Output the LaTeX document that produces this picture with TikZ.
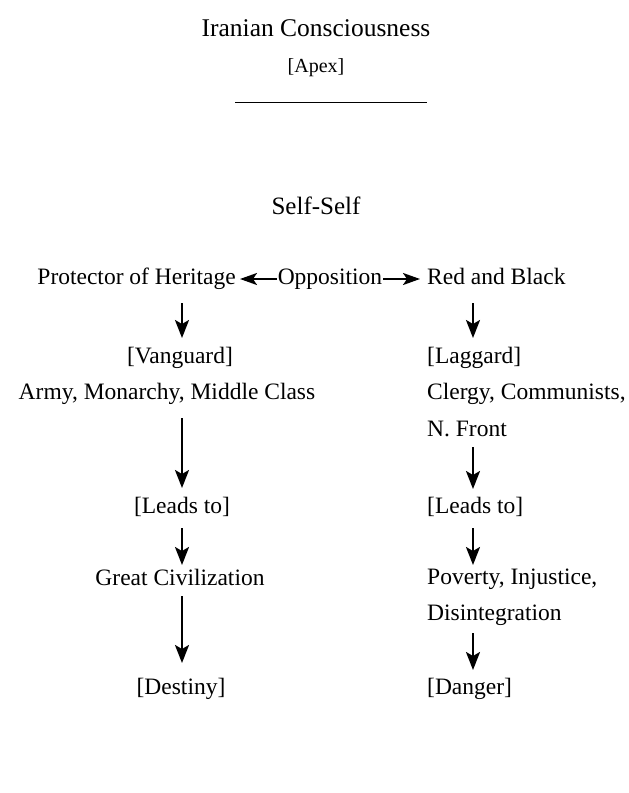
\documentclass[tikz,border=0pt]{standalone}
\usepackage{fontspec}
\setmainfont{Liberation Serif}
\usetikzlibrary{arrows.meta}
\begin{document}
\begin{tikzpicture}[x=1pt,y=-1pt,
  txt/.style={inner sep=0pt, font=\fontsize{23.5}{28}\selectfont},
  lcol/.style={txt, anchor=base},
  rcol/.style={txt, anchor=base west},
  arr/.style={line width=2.3pt, -{Stealth[length=18pt,width=14pt,inset=4pt]}},
  harr/.style={line width=2.1pt, -{Stealth[length=17pt,width=12pt,inset=4pt]}}]
\useasboundingbox (0,0) rectangle (629,793);
% header
\node[txt, anchor=base, font=\fontsize{25.5}{30}\selectfont] (title) at (316,36) {Iranian Consciousness};
\node[txt, anchor=base, font=\fontsize{20}{24}\selectfont] (apex) at (316,72) {[Apex]};
\coordinate (ruleL) at (235,102);
\coordinate (ruleR) at (427,102);
\draw[line width=0.9pt] (ruleL) -- (ruleR);
\node[txt, anchor=base, font=\fontsize{25}{30}\selectfont] (self) at (316,214) {Self-Self};
% top row
\node[txt, anchor=base east, inner xsep=4pt] (prot) at (240,284) {Protector of Heritage};
\node[txt, anchor=base, inner xsep=1pt] (opp) at (330,284) {Opposition};
\node[rcol] (red) at (427,284) {Red and Black};
\draw[harr] (opp.west |- 0,279) -- (prot.east |- 0,279);
\draw[harr] (opp.east |- 0,279) -- ([xshift=-7pt]red.west |- 0,279);
% left column
\node[lcol] (vang) at (180,363) {[Vanguard]};
\node[lcol] (army) at (167,399) {Army, Monarchy, Middle Class};
\node[lcol] (leadsL) at (182,513) {[Leads to]};
\node[lcol] (great) at (180,585) {Great Civilization};
\node[lcol] (dest) at (181,694) {[Destiny]};
% right column
\node[rcol] (lag) at (427,363) {[Laggard]};
\node[rcol] (clergy) at (427,399) {Clergy, Communists,};
\node[rcol] (front) at (427,436) {N. Front};
\node[rcol] (leadsR) at (427,513) {[Leads to]};
\node[rcol] (pov) at (427,584) {Poverty, Injustice,};
\node[rcol] (dis) at (427,620) {Disintegration};
\node[rcol] (dang) at (427,694) {[Danger]};
% arrow end points
\coordinate (l1s) at (182,303); \coordinate (l1e) at (182,338);
\coordinate (l2s) at (182,418); \coordinate (l2e) at (182,488);
\coordinate (l3s) at (182,528); \coordinate (l3e) at (182,565);
\coordinate (l4s) at (182,596); \coordinate (l4e) at (182,663);
\coordinate (r1s) at (473,303); \coordinate (r1e) at (473,338);
\coordinate (r2s) at (473,447); \coordinate (r2e) at (473,489);
\coordinate (r3s) at (473,528); \coordinate (r3e) at (473,565);
\coordinate (r4s) at (473,633); \coordinate (r4e) at (473,670);
\foreach \s/\e in {l1s/l1e,l2s/l2e,l3s/l3e,l4s/l4e,r1s/r1e,r2s/r2e,r3s/r3e,r4s/r4e}
  \draw[arr] (\s) -- (\e);
\end{tikzpicture}
\end{document}
